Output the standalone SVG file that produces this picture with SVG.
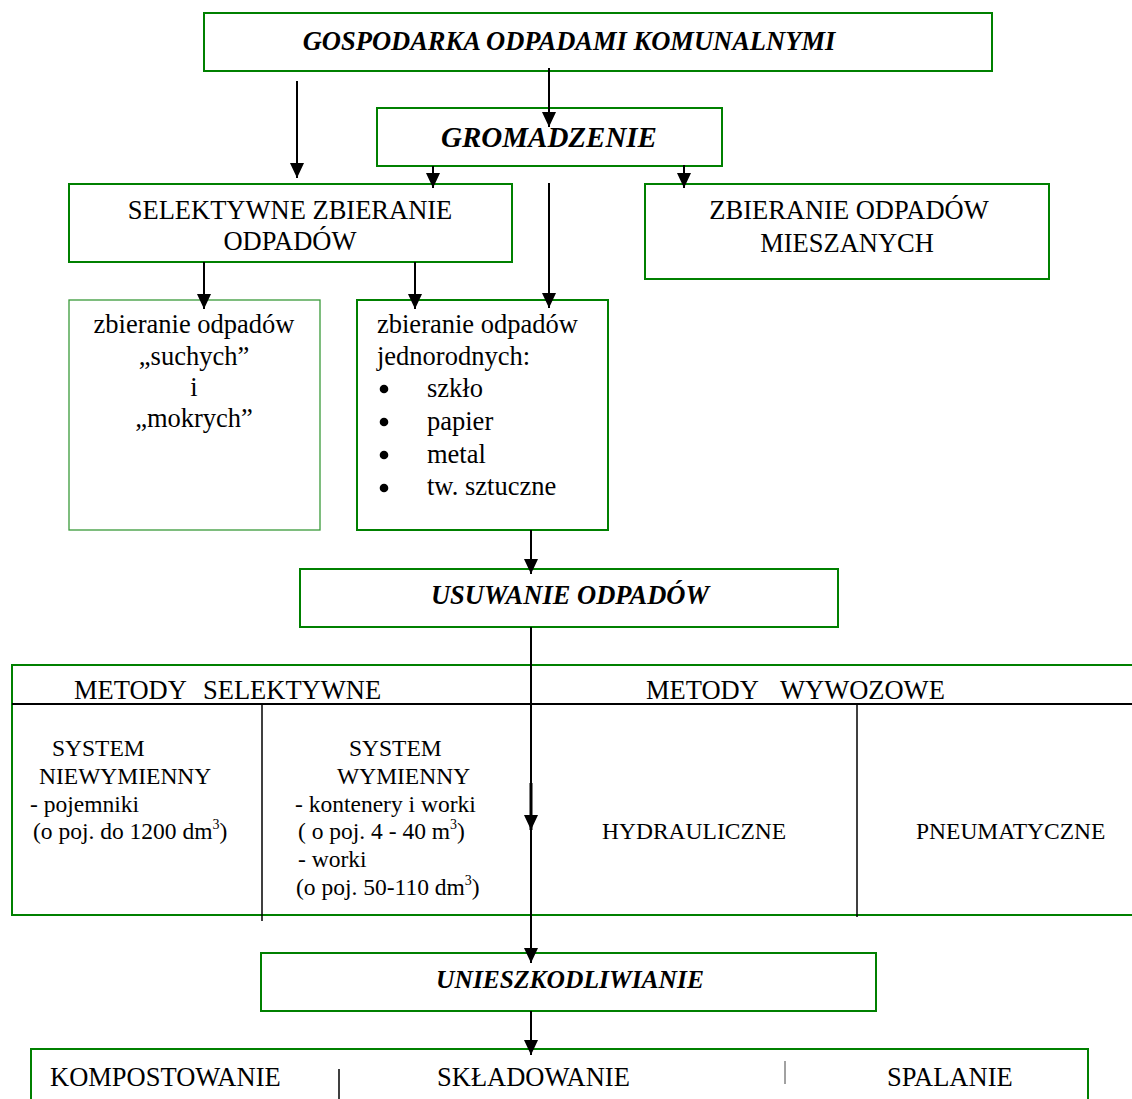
<svg xmlns="http://www.w3.org/2000/svg" width="1132" height="1099" viewBox="0 0 1132 1099">
<defs>
<style>
text{font-family:"Liberation Serif","Times New Roman",serif;fill:#000;}
.r{font-size:26.5px;}
.s{font-size:23.5px;}
.bi{font-weight:bold;font-style:italic;font-size:26.5px;}
.c{text-anchor:middle;}
.box{fill:#fff;stroke:#008000;stroke-width:2;}
.thin{fill:#fff;stroke:#3a9a3a;stroke-width:1.3;}
.g{stroke:#008000;stroke-width:2;fill:none;}
.k{stroke:#000;stroke-width:2;fill:none;}
.k1{stroke:#000;stroke-width:1.5;fill:none;}
.ar{stroke:#000;stroke-width:2;fill:none;marker-end:url(#ah);}
</style>
<marker id="ah" viewBox="0 0 15 14" refX="15" refY="7" markerWidth="15" markerHeight="14" markerUnits="userSpaceOnUse" orient="auto">
<path d="M0,0 L15,7 L0,14 z" fill="#000"/>
</marker>
</defs>
<rect width="1132" height="1099" fill="#fff"/>

<g id="gospodarka">
<rect class="box" x="204" y="13" width="788" height="58"/>
<text class="bi c" x="569" y="50">GOSPODARKA ODPADAMI KOMUNALNYMI</text>
</g>

<g id="gromadzenie">
<rect class="box" x="377" y="108" width="345" height="58"/>
<text class="bi c" x="549" y="147" style="font-size:29px">GROMADZENIE</text>
</g>

<g id="selektywne">
<rect class="box" x="69" y="184" width="443" height="78"/>
<text class="r c" x="290" y="219">SELEKTYWNE ZBIERANIE</text>
<text class="r c" x="290" y="250">ODPADÓW</text>
</g>

<g id="mieszane">
<rect class="box" x="645" y="184" width="404" height="95"/>
<text class="r c" x="849" y="219">ZBIERANIE ODPADÓW</text>
<text class="r c" x="847" y="252">MIESZANYCH</text>
</g>

<g id="suche-mokre">
<rect class="thin" x="69" y="300" width="251" height="230"/>
<text class="r c" x="194" y="333">zbieranie odpadów</text>
<text class="r c" x="194" y="365">„suchych”</text>
<text class="r c" x="194" y="396">i</text>
<text class="r c" x="194" y="427">„mokrych”</text>
</g>

<g id="jednorodne">
<rect class="box" x="357" y="300" width="251" height="230"/>
<text class="r" x="377" y="333">zbieranie odpadów</text>
<text class="r" x="377" y="365">jednorodnych:</text>
<circle cx="384" cy="389" r="4.3"/>
<text class="r" x="427" y="397">szkło</text>
<circle cx="384" cy="422" r="4.3"/>
<text class="r" x="427" y="430">papier</text>
<circle cx="384" cy="455" r="4.3"/>
<text class="r" x="427" y="463">metal</text>
<circle cx="384" cy="488" r="4.3"/>
<text class="r" x="427" y="495">tw. sztuczne</text>
</g>

<g id="usuwanie">
<rect class="box" x="300" y="569" width="538" height="58"/>
<text class="bi c" x="570" y="604">USUWANIE ODPADÓW</text>
</g>

<g id="metody">
<line class="g" x1="12" y1="665" x2="1132" y2="665"/>
<line class="g" x1="12" y1="664" x2="12" y2="916"/>
<line class="g" x1="12" y1="915" x2="1132" y2="915"/>
<line class="k" x1="12" y1="704" x2="1132" y2="704"/>
<line class="k1" x1="262" y1="704" x2="262" y2="921"/>
<line class="k1" x1="857" y1="704" x2="857" y2="917"/>
<text class="r" y="699"><tspan x="74">METODY</tspan><tspan x="203">SELEKTYWNE</tspan></text>
<text class="r" y="699"><tspan x="646">METODY</tspan><tspan x="780">WYWOZOWE</tspan></text>
<text class="s" x="52" y="756">SYSTEM</text>
<text class="s" x="39" y="784">NIEWYMIENNY</text>
<text class="s" x="30" y="812">- pojemniki</text>
<text class="s" x="33" y="839">(o poj. do 1200 dm<tspan font-size="14" dy="-10">3</tspan><tspan dy="10">)</tspan></text>
<text class="s" x="349" y="756">SYSTEM</text>
<text class="s" x="337" y="784">WYMIENNY</text>
<text class="s" x="295" y="812">- kontenery i worki</text>
<text class="s" x="298" y="839" style="white-space:pre">( o poj. 4 - 40 m<tspan font-size="14" dy="-10">3</tspan><tspan dy="10">)</tspan></text>
<text class="s" x="298" y="867">- worki</text>
<text class="s" x="296" y="895">(o poj. 50-110 dm<tspan font-size="14" dy="-10">3</tspan><tspan dy="10">)</tspan></text>
<text class="s" x="602" y="839">HYDRAULICZNE</text>
<text class="s" x="916" y="839">PNEUMATYCZNE</text>
</g>

<g id="unieszkodliwianie">
<rect class="box" x="261" y="953" width="615" height="58"/>
<text class="bi c" x="570" y="988" style="font-size:25.5px">UNIESZKODLIWIANIE</text>
</g>

<g id="metody-unieszkodliwiania">
<rect class="box" x="31" y="1049" width="1057" height="70"/>
<text class="r" x="50" y="1086">KOMPOSTOWANIE</text>
<line class="k1" x1="339" y1="1069" x2="339" y2="1099"/>
<text class="r" x="437" y="1086">SKŁADOWANIE</text>
<line x1="785" y1="1061" x2="785" y2="1084" stroke="#444" stroke-width="1"/>
<text class="r" x="887" y="1086">SPALANIE</text>
</g>

<g id="connectors">
<line class="ar" x1="297" y1="81" x2="297" y2="178"/>
<line class="ar" x1="549" y1="68" x2="549" y2="127"/>
<line class="ar" x1="433" y1="166" x2="433" y2="188"/>
<line class="ar" x1="684" y1="165" x2="684" y2="188"/>
<line class="ar" x1="549" y1="183" x2="549" y2="308"/>
<line class="ar" x1="204" y1="262" x2="204" y2="309"/>
<line class="ar" x1="415" y1="262" x2="415" y2="309"/>
<line class="ar" x1="531" y1="530" x2="531" y2="574"/>
<line class="ar" x1="531" y1="627" x2="531" y2="963"/>
<line class="ar" x1="531" y1="783" x2="531" y2="830" style="stroke-width:3"/>
<line class="ar" x1="531" y1="1011" x2="531" y2="1055"/>
</g>
</svg>
